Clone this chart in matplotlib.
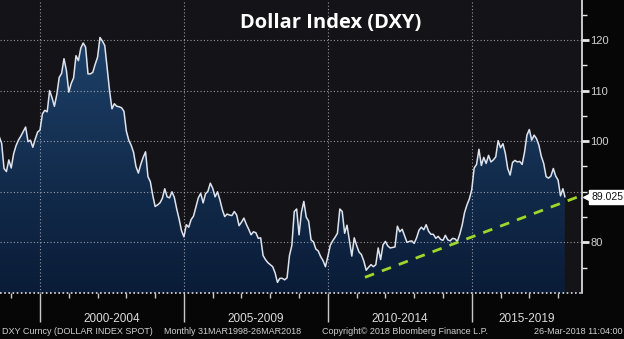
import numpy as np
import matplotlib
matplotlib.use('Agg')
import matplotlib.pyplot as plt
import matplotlib.transforms as mtransforms
from matplotlib.colors import LinearSegmentedColormap

# monthly DXY closes, Mar 1998 .. Mar 2018 (last = 26 Mar 2018)
y1998 = [99.4, 98.7, 99.6, 100.3, 100.9, 99.6, 94.6, 94.0, 96.3, 94.7]
y1999 = [97.5, 99.1, 100.2, 101.0, 101.9, 102.8, 99.9, 100.2, 98.8, 100.4, 101.8, 102.2]
y2000 = [105.4, 106.1, 105.8, 110.0, 108.6, 106.9, 109.2, 112.6, 113.4, 116.3, 114.0, 109.7]
y2001 = [111.4, 112.5, 116.9, 115.9, 118.4, 119.4, 118.6, 113.3, 113.3, 113.6, 115.2, 116.6]
y2002 = [120.5, 119.8, 118.9, 114.5, 110.0, 106.4, 107.4, 106.9, 106.8, 106.6, 105.9, 102.0]
y2003 = [100.2, 99.2, 97.8, 95.0, 93.7, 95.4, 96.8, 97.9, 93.0, 92.0, 89.3, 87.1]
y2004 = [87.4, 87.8, 88.7, 90.6, 89.0, 88.8, 90.0, 88.9, 86.6, 84.6, 82.3, 81.1]
y2005 = [83.5, 83.0, 84.5, 85.2, 87.0, 88.8, 89.7, 87.8, 89.6, 90.1, 91.7, 90.7]
y2006 = [89.0, 90.0, 88.4, 86.5, 85.1, 85.6, 85.4, 85.3, 86.1, 85.4, 83.3, 84.0]
y2007 = [84.8, 83.6, 82.6, 81.5, 82.1, 81.9, 80.8, 80.9, 77.4, 76.6, 76.0, 75.6]
y2008 = [75.2, 74.0, 72.1, 72.9, 72.9, 72.6, 73.0, 77.4, 79.4, 86.1, 86.6, 81.5]
y2009 = [86.0, 88.1, 85.0, 84.2, 80.5, 80.1, 78.7, 78.3, 77.2, 76.4, 75.2, 77.2]
y2010 = [79.4, 80.3, 81.0, 81.8, 86.6, 86.1, 81.8, 83.4, 80.3, 77.3, 80.9, 79.4]
y2011 = [78.1, 77.6, 76.3, 74.5, 75.1, 75.6, 75.2, 75.6, 78.9, 76.6, 79.5, 80.2]
y2012 = [79.3, 78.9, 79.0, 79.1, 83.2, 82.1, 82.6, 81.3, 80.0, 80.2, 80.3, 79.8]
y2013 = [80.9, 82.4, 83.0, 82.5, 83.5, 82.2, 81.6, 81.6, 80.8, 81.2, 80.6, 80.4]
y2014 = [81.4, 80.5, 80.3, 80.8, 80.7, 80.2, 81.6, 83.4, 85.9, 87.4, 88.6, 90.4]
y2015 = [94.7, 95.4, 98.4, 95.2, 96.8, 95.6, 97.2, 95.9, 96.3, 96.9, 100.1, 98.7]
y2016 = [99.5, 97.6, 94.6, 93.3, 95.8, 96.2, 95.9, 96.0, 95.4, 97.8, 101.2, 102.3]
y2017 = [100.2, 101.2, 100.5, 99.2, 97.0, 95.6, 93.0, 92.7, 93.1, 94.6, 93.1, 92.3]
y2018 = [89.2, 90.6, 89.025]

dxy = (y1998 + y1999 + y2000 + y2001 + y2002 + y2003 + y2004 + y2005 + y2006
       + y2007 + y2008 + y2009 + y2010 + y2011 + y2012 + y2013 + y2014
       + y2015 + y2016 + y2017 + y2018)
dxy = np.array(dxy)

# month-end dates as decimal years, last point is 26 Mar 2018
t = 1998.25 + np.arange(len(dxy)) / 12.0
t[-1] = 2018 + (2 + 26 / 31) / 12

last_value = 89.025
trend_x = [2011.29, 2018.69]
trend_y = [73.1, 89.0]

period_labels = ['2000-2004', '2005-2009', '2010-2014', '2015-2019']
period_starts = [2000, 2005, 2010, 2015]

xmin, xmax = 1998.61, 2018.82
ymin, ymax = 70.0, 127.9

fig = plt.figure(figsize=(6.24, 3.39), dpi=100, facecolor='#060606')
ax = fig.add_axes([0, 46 / 339, 581.7 / 624, 293 / 339])
ax.set_facecolor('#141318')

# gradient fill under the line
poly = ax.fill_between(t, dxy, ymin, facecolor='none', edgecolor='none')
cmap = LinearSegmentedColormap.from_list('dxyfill', ['#0a1c37', '#1d4068'])
grad = np.linspace(0, 1, 256).reshape(-1, 1)
im = ax.imshow(grad, cmap=cmap, aspect='auto', origin='lower',
               extent=[t[0], t[-1], ymin, dxy.max()], zorder=1)
im.set_clip_path(poly.get_paths()[0], transform=ax.transData)

# dotted grid
for v in [80, 90, 100, 110, 120]:
    ax.axhline(v, color='#b8b8c0', lw=0.8, ls=(0, (1, 2)), alpha=0.8, zorder=2)
for v in period_starts:
    ax.axvline(v, color='#b8b8c0', lw=0.8, ls=(0, (1, 2)), alpha=0.8, zorder=2)
ax.axhline(ymin, color='#e0e0e0', lw=1.2, ls=(0, (1, 1.5)), zorder=3, clip_on=False)

ax.plot(t, dxy, color='#dfe3ec', lw=1.1, zorder=4)
ax.plot(trend_x, trend_y, color='#9fd62b', lw=2.0, ls=(0, (3.5, 3)), zorder=5)

ax.set_xlim(xmin, xmax)
ax.set_ylim(ymin, ymax)

for s in ['top', 'left', 'bottom']:
    ax.spines[s].set_visible(False)
ax.spines['right'].set_color('#e8e8e8')
ax.spines['right'].set_linewidth(1.2)

# x ticks
ax.set_xticks(period_starts)
ax.set_xticks(np.arange(1999, 2019), minor=True)
ax.tick_params(axis='x', which='major', length=21, width=1, color='#c8c8c8',
               direction='out', labelbottom=False)
ax.tick_params(axis='x', which='minor', length=3.5, width=1, color='#c8c8c8',
               direction='out')

# y ticks on the right
ax.yaxis.tick_right()
ax.set_yticks([80, 100, 110, 120])
ax.set_yticks([75, 85, 90, 95, 105, 115, 125], minor=True)
ax.tick_params(axis='y', which='major', length=5, width=2, color='#e8e8e8',
               labelsize=8, labelcolor='#d0d0d0', pad=1)
ax.tick_params(axis='y', which='minor', length=3.5, width=1, color='#e8e8e8')
for lab in ax.get_yticklabels():
    lab.set_family('Liberation Sans')

# last value tag
blend = mtransforms.blended_transform_factory(ax.transAxes, ax.transData)
ax.plot([1.011], [last_value], marker='<', color='white', ms=7, transform=blend,
        clip_on=False, zorder=6)
ax.text(1.016, last_value, f'{last_value:.3f}', transform=blend, ha='left',
        va='center', fontsize=7.5, color='#111111', family='Liberation Sans',
        bbox=dict(boxstyle='square,pad=0.18', facecolor='white', edgecolor='white'),
        zorder=6, clip_on=False)

# period labels under the axis
tb = mtransforms.blended_transform_factory(ax.transData, fig.transFigure)
ends = period_starts[1:] + [xmax]
for lab, a, b in zip(period_labels, period_starts, ends):
    ax.text((a + b) / 2, 1 - 318.5 / 339, lab, transform=tb, ha='center', va='center',
            fontsize=8.5, color='#dcdcdc', family='Liberation Sans')

fig.text(331 / 624, 1 - 23 / 339, 'Dollar Index (DXY)', ha='center', va='center',
         fontsize=14.5, fontweight='bold', color='white', family='Open Sans')

fy = 1 - 331.7 / 339
fkw = dict(va='center', fontsize=6.5, color='#d0d0d0', family='Liberation Sans')
fig.text(2 / 624, fy, 'DXY Curncy (DOLLAR INDEX SPOT)', ha='left', **fkw)
fig.text(164 / 624, fy, 'Monthly 31MAR1998-26MAR2018', ha='left', **fkw)
fig.text(322 / 624, fy, 'Copyright\u00a9 2018 Bloomberg Finance L.P.', ha='left', **fkw)
fig.text(622 / 624, fy, '26-Mar-2018 11:04:00', ha='right', **fkw)

fig.savefig('out.png', dpi=100, facecolor=fig.get_facecolor())
